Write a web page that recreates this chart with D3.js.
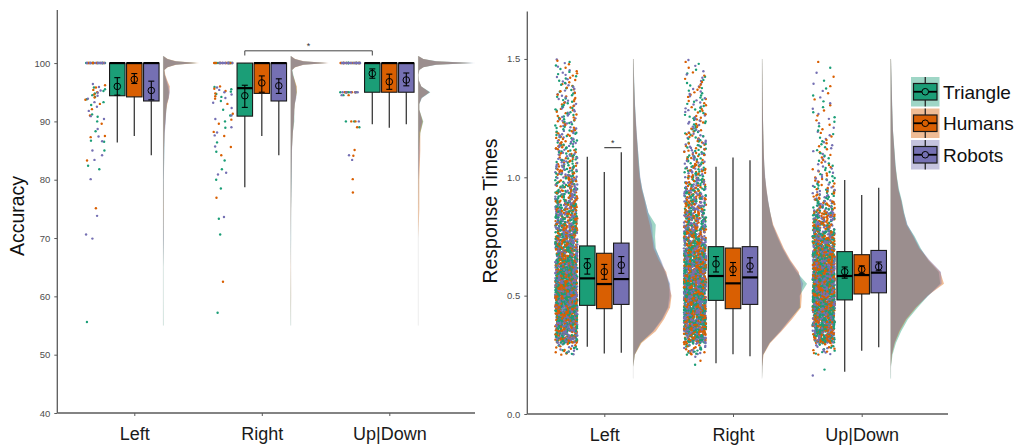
<!DOCTYPE html>
<html><head><meta charset="utf-8">
<script src="https://cdn.jsdelivr.net/npm/d3@7"></script>
<style>body{margin:0;background:#fff}svg{display:block;font-family:"Liberation Sans",Arial,Helvetica,sans-serif}</style>
</head><body><svg id="c" width="1015" height="446"></svg>
<script>
// ---------- DATA ----------
const conditions = ["Left", "Right", "Up|Down"];
const groups = ["Triangle", "Humans", "Robots"];
const groupColors = ["#1b9e77", "#d95f02", "#7570b3"];
const accTicks = [40, 50, 60, 70, 80, 90, 100];
const rtTicks = [0, 0.5, 1.0, 1.5];

// box statistics, order: Left(T,H,R), Right(T,H,R), Up|Down(T,H,R)
const accLo   = [86.4, 87.5, 84.2, 78.7, 87.5, 84.2, 89.5, 88.9, 89.5];
const accQ1   = [94.4, 94.2, 93.5, 90.9, 94.8, 93.5, 95.0, 95.0, 95.0];
const accMed  = [100, 100, 100, 95.7, 100, 100, 100, 100, 100];
const accQ3   = [100, 100, 100, 100, 100, 100, 100, 100, 100];
const accHi   = [100, 100, 100, 100, 100, 100, 100, 100, 100];
const accMean = [96.0, 97.2, 95.3, 94.4, 96.6, 96.1, 98.2, 96.8, 97.1];
const accCiLo = [94.5, 96.5, 93.7, 92.4, 95.0, 94.8, 97.4, 95.5, 96.1];
const accCiHi = [97.5, 98.2, 96.9, 96.2, 97.8, 97.3, 99.0, 98.1, 98.3];

const rtLo   = [0.284, 0.256, 0.259, 0.214, 0.252, 0.244, 0.179, 0.267, 0.282];
const rtQ1   = [0.459, 0.445, 0.463, 0.480, 0.445, 0.463, 0.482, 0.507, 0.512];
const rtMed  = [0.573, 0.549, 0.570, 0.583, 0.552, 0.577, 0.583, 0.587, 0.597];
const rtQ3   = [0.710, 0.679, 0.722, 0.707, 0.701, 0.707, 0.686, 0.673, 0.691];
const rtHi   = [1.087, 1.022, 1.106, 1.045, 1.084, 1.072, 0.989, 0.925, 0.956];
const rtMean = [0.627, 0.601, 0.629, 0.634, 0.611, 0.625, 0.601, 0.611, 0.622];
const rtCiLo = [0.591, 0.569, 0.594, 0.600, 0.585, 0.600, 0.574, 0.594, 0.605];
const rtCiHi = [0.656, 0.632, 0.665, 0.665, 0.640, 0.660, 0.621, 0.626, 0.642];

// accuracy scores below 100 (individual participants)
const accLeftTri  = [95.8, 95.5, 95.2, 94.8, 94.5, 94.2, 93.8, 93.3, 92.8, 91.2, 90.8, 90.0, 88.3, 86.7, 86.5, 85.0, 82.4, 81.8, 55.6];
const accLeftHum  = [96.2, 95.8, 95.4, 95.0, 94.6, 94.1, 93.7, 93.0, 92.1, 91.0, 89.6, 87.5, 87.3, 83.3, 75.1];
const accLeftRob  = [96.4, 95.9, 95.3, 94.9, 94.4, 93.9, 93.3, 92.5, 91.8, 90.9, 90.4, 88.7, 87.4, 86.6, 85.0, 84.2, 83.4, 80.1, 73.8, 70.6, 69.9];
const accRightTri = [95.9, 95.5, 95.1, 94.7, 94.2, 93.5, 92.0, 91.0, 90.0, 88.9, 86.4, 84.8, 83.3, 81.8, 80.0, 78.5, 73.3, 70.6, 57.2];
const accRightHum = [96.0, 95.6, 95.2, 94.8, 94.3, 93.9, 93.0, 91.3, 90.3, 89.6, 88.2, 87.5, 85.6, 84.2, 76.9, 62.5];
const accRightRob = [95.8, 95.4, 95.0, 94.6, 94.0, 93.2, 92.3, 91.0, 90.4, 89.0, 88.1, 87.6, 85.7, 81.2, 80.9, 73.6];
const accUpTri    = [95, 95, 95, 95, 95, 94.5, 90, 90, 89];
const accUpHum    = [95, 95, 95, 95, 94.5, 90, 90, 89, 85.1, 84.1, 80.1, 77.8];
const accUpRob    = [95, 95, 95, 95, 95, 94.5, 90, 84.2, 83.4];
// number of participants scoring exactly 100 (per cell, same order as stats)
const accPerfectCount = [12, 12, 12, 10, 11, 11, 14, 14, 14];

// accuracy densities (flat violins)
const accDensGrid = [55, 60, 65, 70, 75, 80, 85, 88, 90, 92, 93, 94, 95, 96, 97, 98, 98.8, 99.3, 99.7, 100, 100.3, 100.7, 101.2];
const accDensLeftTri  = [0.03, 0.02, 0.02, 0.04, 0.04, 0.05, 0.1, 0.12, 0.2, 0.3, 0.35, 0.5, 0.55, 0.45, 0.3, 0.15, 0.1, 0.4, 1.2, 3.4, 1.2, 0.4, 0];
const accDensLeftHum  = [0, 0, 0, 0.02, 0.05, 0.03, 0.06, 0.12, 0.2, 0.3, 0.4, 0.55, 0.6, 0.65, 0.4, 0.2, 0.12, 0.45, 1.3, 3.6, 1.3, 0.45, 0];
const accDensLeftRob  = [0, 0, 0, 0.06, 0.04, 0.06, 0.1, 0.15, 0.25, 0.3, 0.35, 0.55, 0.65, 0.55, 0.35, 0.15, 0.1, 0.4, 1.2, 3.3, 1.2, 0.4, 0];
const accDensRightTri = [0.02, 0.02, 0, 0.03, 0.03, 0.08, 0.1, 0.2, 0.35, 0.35, 0.4, 0.5, 0.6, 0.55, 0.4, 0.25, 0.15, 0.4, 1.2, 3.6, 1.2, 0.4, 0];
const accDensRightHum = [0, 0.03, 0.02, 0, 0.03, 0.05, 0.1, 0.2, 0.3, 0.35, 0.4, 0.5, 0.6, 0.6, 0.4, 0.2, 0.12, 0.45, 1.3, 3.8, 1.3, 0.45, 0];
const accDensRightRob = [0, 0, 0, 0.02, 0.03, 0.08, 0.12, 0.2, 0.3, 0.35, 0.4, 0.55, 0.55, 0.5, 0.35, 0.2, 0.12, 0.4, 1.25, 3.7, 1.25, 0.4, 0];
const accDensUpTri    = [0, 0, 0, 0, 0, 0.02, 0.05, 0.2, 0.5, 0.1, 0.1, 0.35, 1.2, 0.3, 0.05, 0.02, 0.1, 0.5, 1.8, 5.5, 1.8, 0.5, 0];
const accDensUpHum    = [0, 0, 0, 0, 0.1, 0.1, 0.2, 0.2, 0.45, 0.1, 0.1, 0.3, 1.1, 0.3, 0.05, 0.02, 0.1, 0.5, 1.7, 5.3, 1.7, 0.5, 0];
const accDensUpRob    = [0, 0, 0, 0, 0, 0.02, 0.15, 0.1, 0.4, 0.1, 0.1, 0.35, 1.15, 0.3, 0.05, 0.02, 0.1, 0.5, 1.8, 5.7, 1.8, 0.5, 0];

// response-time trial counts per 0.05 s bin (lower edges), all three agents pooled
const rtBinLo = [0.15, 0.20, 0.25, 0.30, 0.35, 0.40, 0.45, 0.50, 0.55, 0.60, 0.65, 0.70, 0.75, 0.80, 0.85, 0.90, 0.95, 1.00, 1.05, 1.10, 1.15, 1.20, 1.25, 1.30, 1.35, 1.40, 1.45];
const rtCountLeft  = [0, 0, 30, 140, 200, 220, 230, 230, 220, 195, 160, 135, 120, 105, 90, 72, 60, 48, 42, 36, 32, 28, 25, 22, 20, 16, 10];
const rtCountRight = [0, 3, 35, 145, 205, 225, 230, 235, 230, 205, 170, 140, 115, 95, 82, 70, 58, 46, 36, 30, 26, 23, 20, 17, 14, 11, 6];
const rtCountUp    = [2, 0, 24, 145, 195, 220, 240, 265, 275, 265, 215, 170, 120, 85, 55, 34, 24, 17, 14, 12, 10, 8, 7, 6, 5, 3, 2];

// response-time densities
const rtDensGrid = [0.15, 0.2, 0.25, 0.3, 0.35, 0.4, 0.45, 0.5, 0.55, 0.6, 0.65, 0.7, 0.75, 0.8, 0.85, 0.9, 0.95, 1.0, 1.05, 1.1, 1.2, 1.3, 1.4, 1.5];
const rtDensLeftTri  = [0, 0, 0.1, 0.5, 1.3, 1.9, 2.3, 2.4, 2.4, 2.1, 1.8, 1.5, 1.45, 1.5, 1.0, 0.8, 0.6, 0.45, 0.4, 0.33, 0.2, 0.12, 0.06, 0.02];
const rtDensLeftHum  = [0, 0, 0.1, 0.55, 1.5, 2.05, 2.45, 2.55, 2.35, 2.2, 1.7, 1.35, 1.25, 1.1, 0.9, 0.75, 0.55, 0.42, 0.35, 0.3, 0.2, 0.1, 0.05, 0.02];
const rtDensLeftRob  = [0, 0, 0.08, 0.45, 1.35, 1.95, 2.35, 2.5, 2.45, 2.15, 1.85, 1.45, 1.3, 1.25, 1.0, 0.8, 0.6, 0.47, 0.38, 0.33, 0.22, 0.12, 0.06, 0.02];
const rtDensRightTri = [0, 0.02, 0.08, 0.5, 1.2, 1.85, 2.55, 2.5, 3.0, 2.3, 1.8, 1.35, 1.0, 0.7, 0.55, 0.4, 0.28, 0.2, 0.15, 0.12, 0.08, 0.05, 0.03, 0.01];
const rtDensRightHum = [0, 0.02, 0.1, 0.55, 1.3, 2.0, 2.6, 2.65, 2.6, 2.45, 1.9, 1.45, 1.1, 0.75, 0.55, 0.4, 0.3, 0.2, 0.15, 0.12, 0.08, 0.05, 0.03, 0.01];
const rtDensRightRob = [0, 0.02, 0.07, 0.5, 1.25, 1.9, 2.5, 2.55, 2.75, 2.4, 1.85, 1.4, 1.05, 0.72, 0.55, 0.42, 0.3, 0.22, 0.16, 0.12, 0.08, 0.05, 0.03, 0.01];
const rtDensUpTri    = [0.02, 0.02, 0.12, 0.35, 0.7, 1.15, 1.8, 2.5, 3.3, 3.2, 2.5, 2.0, 1.6, 1.1, 0.9, 0.75, 0.55, 0.42, 0.33, 0.27, 0.15, 0.1, 0.06, 0.02];
const rtDensUpHum    = [0, 0.01, 0.08, 0.27, 0.6, 1.05, 1.7, 2.45, 3.55, 3.3, 2.55, 1.9, 1.5, 1.05, 0.85, 0.7, 0.5, 0.4, 0.3, 0.25, 0.14, 0.09, 0.05, 0.02];
const rtDensUpRob    = [0, 0.01, 0.06, 0.25, 0.55, 1.0, 1.65, 2.5, 3.4, 3.35, 2.6, 1.95, 1.55, 1.12, 0.88, 0.72, 0.52, 0.4, 0.32, 0.26, 0.15, 0.1, 0.06, 0.02];

// ---------- DRAW ----------
const svg = d3.select("#c");
const frac = v => v - Math.floor(v);
// deterministic horizontal jitter (position only, not data)
const jitter = i => frac(Math.sin(i * 12.9898 + 78.233) * 43758.5453);
const AXC = "#5a5a5a";

const panels = [
  { x0: 57.3, x1: 475, yBot: 413, yTop: 10, domain: [40, 109.1], ticks: accTicks, fmt: d3.format("d"),
    t0: 134.3, t1: 389.3, title: "Accuracy", tx: 24, ty: 216, dens: 10,
    lo: accLo, q1: accQ1, med: accMed, q3: accQ3, hi: accHi, mean: accMean, ciLo: accCiLo, ciHi: accCiHi,
    densGrid: accDensGrid,
    densities: [[accDensLeftTri, accDensLeftHum, accDensLeftRob], [accDensRightTri, accDensRightHum, accDensRightRob], [accDensUpTri, accDensUpHum, accDensUpRob]] },
  { x0: 527.3, x1: 948, yBot: 414, yTop: 11.6, domain: [0, 1.7], ticks: rtTicks, fmt: d3.format(".1f"),
    t0: 604.3, t1: 861.7, title: "Response Times", tx: 497, ty: 211, dens: 15,
    lo: rtLo, q1: rtQ1, med: rtMed, q3: rtQ3, hi: rtHi, mean: rtMean, ciLo: rtCiLo, ciHi: rtCiHi,
    densGrid: rtDensGrid,
    densities: [[rtDensLeftTri, rtDensLeftHum, rtDensLeftRob], [rtDensRightTri, rtDensRightHum, rtDensRightRob], [rtDensUpTri, rtDensUpHum, rtDensUpRob]] }
];

panels.forEach((p, pi) => {
  const g = svg.append("g");
  const x = d3.scalePoint().domain(conditions).range([p.t0, p.t1]);
  const y = d3.scaleLinear().domain(p.domain).range([p.yBot, p.yTop]);
  const dodge = d3.scalePoint().domain(groups).range([-17, 17]);
  const dw = d3.scaleLinear().domain([0, 1]).range([0, p.dens]);
  const color = d3.scaleOrdinal().domain(groups).range(groupColors);

  // densities (flat violins)
  conditions.forEach((c, ci) => {
    const base = x(c) + 29;
    const ext = d3.extent(p.densGrid);
    g.append("line").attr("x1", base).attr("x2", base).attr("y1", y(ext[0])).attr("y2", y(ext[1]))
      .attr("stroke", "#e8e8e8").attr("stroke-width", 0.8);
    groups.forEach((gr, gi) => {
      const vals = p.densities[ci][gi];
      const pts = p.densGrid.map((v, i) => [v, vals[i]]);
      const area = d3.area().y(d => y(d[0])).x0(base).x1(d => base + dw(d[1])).curve(d3.curveLinear);
      g.append("path").attr("d", area(pts)).attr("fill", color(gr)).attr("fill-opacity", 0.42);
    });
  });

  // rain points
  const rain = g.append("g");
  if (pi === 0) {
    const sets = [[accLeftTri, accLeftHum, accLeftRob], [accRightTri, accRightHum, accRightRob], [accUpTri, accUpHum, accUpRob]];
    conditions.forEach((c, ci) => {
      let idx = ci * 397 + 11;
      groups.forEach((gr, gi) => {
        const n = accPerfectCount[ci * 3 + gi];
        for (let k = 0; k < n; k++) {
          idx++;
          rain.append("circle").attr("cx", x(c) - 49 + 20 * jitter(idx))
            .attr("cy", y(100)).attr("r", 1.2).attr("fill", color(gr));
        }
      });
      groups.forEach((gr, gi) => sets[ci][gi].forEach(v => {
        idx++;
        rain.append("circle").attr("cx", x(c) - 49 + 20 * jitter(idx))
          .attr("cy", y(v)).attr("r", 1.2).attr("fill", color(gr));
      }));
    });
  } else {
    const counts = [rtCountLeft, rtCountRight, rtCountUp];
    conditions.forEach((c, ci) => {
      let gidx = ci * 5000 + 3;
      const pts = [];
      rtBinLo.forEach((lo, b) => {
        const n = counts[ci][b];
        for (let k = 0; k < n; k++) {
          gidx++;
          pts.push({
            v: lo + 0.05 * (k + 0.5) / n,
            j: jitter(gidx),
            o: jitter(gidx + 77777),
            gr: groups[gidx % 3]
          });
        }
      });
      pts.sort((a, b) => a.o - b.o);
      rain.selectAll(null).data(pts).enter().append("circle")
        .attr("cx", d => x(c) - 49 + 22 * d.j)
        .attr("cy", d => y(d.v)).attr("r", 1.2).attr("fill", d => color(d.gr));
    });
  }

  // boxplots
  conditions.forEach((c, ci) => {
    groups.forEach((gr, gi) => {
      const i = ci * 3 + gi;
      const cx = x(c) + dodge(gr);
      const bw = 15.5;
      const bg = g.append("g");
      bg.append("line").attr("x1", cx).attr("x2", cx).attr("y1", y(p.lo[i])).attr("y2", y(p.hi[i]))
        .attr("stroke", "#3a3a3a").attr("stroke-width", 1.3);
      bg.append("rect").attr("x", cx - bw / 2).attr("width", bw)
        .attr("y", y(p.q3[i])).attr("height", y(p.q1[i]) - y(p.q3[i]))
        .attr("fill", color(gr)).attr("stroke", "#1a1a1a").attr("stroke-width", 1.1);
      bg.append("line").attr("x1", cx - bw / 2).attr("x2", cx + bw / 2).attr("y1", y(p.med[i])).attr("y2", y(p.med[i]))
        .attr("stroke", "#000").attr("stroke-width", 2.2);
      bg.append("line").attr("x1", cx).attr("x2", cx).attr("y1", y(p.ciLo[i])).attr("y2", y(p.ciHi[i]))
        .attr("stroke", "#000").attr("stroke-width", 1.1);
      [p.ciLo[i], p.ciHi[i]].forEach(v => bg.append("line").attr("x1", cx - 3).attr("x2", cx + 3)
        .attr("y1", y(v)).attr("y2", y(v)).attr("stroke", "#000").attr("stroke-width", 1.1));
      bg.append("circle").attr("cx", cx).attr("cy", y(p.mean[i])).attr("r", 3.3)
        .attr("fill", "none").attr("stroke", "#000").attr("stroke-width", 1);
    });
  });

  // significance markers
  if (pi === 0) {
    const xa = x("Right") + dodge("Triangle"), xb = x("Up|Down") + dodge("Triangle");
    g.append("path").attr("d", `M${xa},${y(101.3)}V${y(102.1)}H${xb}V${y(101.3)}`)
      .attr("fill", "none").attr("stroke", "#444").attr("stroke-width", 1);
    g.append("text").attr("x", (xa + xb) / 2).attr("y", y(102.1) - 1.5).attr("text-anchor", "middle")
      .attr("font-size", 9).attr("fill", "#333").text("*");
  } else {
    const xa = x("Left") + dodge("Humans"), xb = x("Left") + dodge("Robots");
    g.append("line").attr("x1", xa).attr("x2", xb).attr("y1", y(1.125)).attr("y2", y(1.125))
      .attr("stroke", "#222").attr("stroke-width", 1);
    g.append("text").attr("x", (xa + xb) / 2).attr("y", y(1.125) - 1.5).attr("text-anchor", "middle")
      .attr("font-size", 9).attr("fill", "#333").text("*");
  }

  // axes
  const ya = g.append("g").attr("transform", `translate(${p.x0},0)`)
    .call(d3.axisLeft(y).tickValues(p.ticks).tickFormat(p.fmt).tickSize(3).tickSizeOuter(0).tickPadding(4));
  ya.select(".domain").remove();
  g.append("line").attr("x1", p.x0).attr("x2", p.x0).attr("y1", p.yTop).attr("y2", p.yBot)
    .attr("stroke", AXC).attr("stroke-width", 1.3);
  ya.selectAll(".tick line").attr("stroke", AXC);
  ya.selectAll(".tick text").attr("fill", "#4d4d4d").attr("font-size", 9.5).attr("font-family", null);

  const xa = g.append("g").attr("transform", `translate(0,${p.yBot})`)
    .call(d3.axisBottom(x).tickSize(3).tickSizeOuter(0).tickPadding(10));
  xa.select(".domain").remove();
  g.append("line").attr("x1", p.x0).attr("x2", p.x1).attr("y1", p.yBot).attr("y2", p.yBot)
    .attr("stroke", AXC).attr("stroke-width", 1.3);
  xa.selectAll(".tick line").attr("stroke", AXC);
  xa.selectAll(".tick text").attr("fill", "#1a1a1a").attr("font-size", 18).attr("font-family", null)
    .attr("dy", null).attr("y", 27);

  g.append("text").attr("transform", `translate(${p.tx},${p.ty}) rotate(-90)`)
    .attr("text-anchor", "middle").attr("font-size", 19.5).attr("fill", "#111").text(p.title);
});

// legend
const lg = svg.append("g").attr("transform", "translate(911,77)");
groups.forEach((gr, i) => {
  const k = lg.append("g").attr("transform", `translate(0,${i * 31.5})`);
  const col = groupColors[i];
  k.append("rect").attr("width", 28.5).attr("height", 29.5).attr("fill", col).attr("fill-opacity", 0.42);
  k.append("line").attr("x1", 14.25).attr("x2", 14.25).attr("y1", 0).attr("y2", 29.5).attr("stroke", "#1a1a1a").attr("stroke-width", 1.2);
  k.append("rect").attr("x", 2.5).attr("y", 6.5).attr("width", 23.5).attr("height", 16.5)
    .attr("fill", col).attr("stroke", "#1a1a1a").attr("stroke-width", 1.2);
  k.append("line").attr("x1", 2.5).attr("x2", 26).attr("y1", 14.75).attr("y2", 14.75).attr("stroke", "#000").attr("stroke-width", 1.8);
  k.append("circle").attr("cx", 14.25).attr("cy", 14.75).attr("r", 3.3).attr("fill", col).attr("stroke", "#000").attr("stroke-width", 1);
  k.append("text").attr("x", 32).attr("y", 14.75).attr("dy", "0.36em").attr("font-size", 19).attr("fill", "#111").text(gr);
});
</script></body></html>
